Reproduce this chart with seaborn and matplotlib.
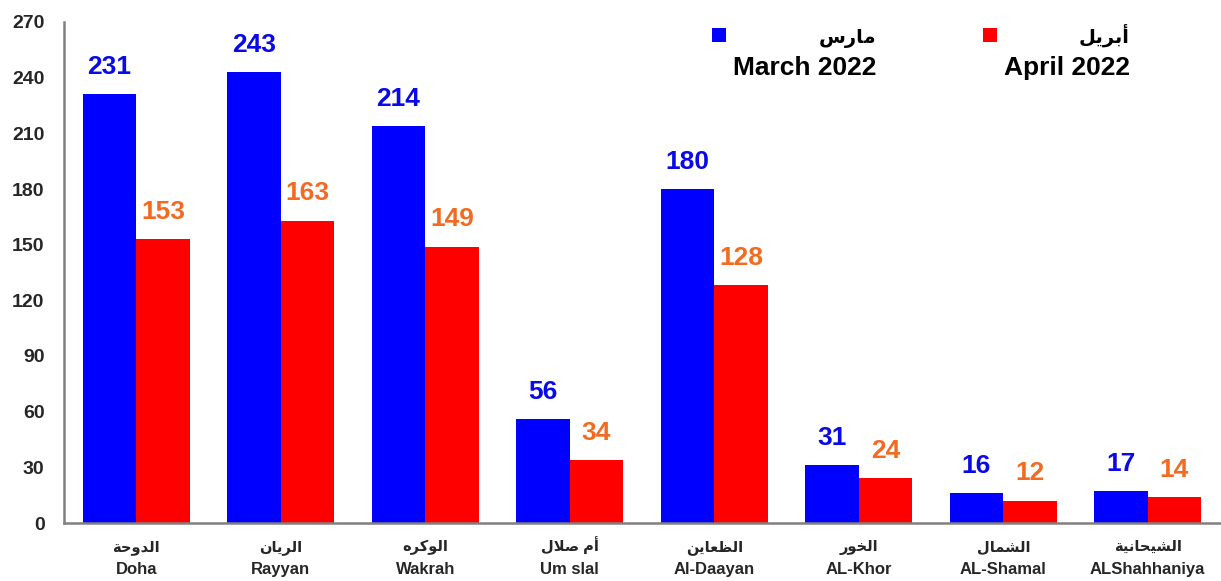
import numpy as np
import pandas as pd
import matplotlib
matplotlib.use("Agg")
import matplotlib.pyplot as plt
from matplotlib.patches import Rectangle
import seaborn as sns

# ---------------- data ----------------
regions_en = ["Doha", "Rayyan", "Wakrah", "Um slal", "Al-Daayan", "AL-Khor", "AL-Shamal", "ALShahhaniya"]
regions_ar = ["الدوحة", "الريان", "الوكره", "أم صلال", "الظعاين", "الخور", "الشمال", "الشيحانية"]
march_2022 = [231, 243, 214, 56, 180, 31, 16, 17]
april_2022 = [153, 163, 149, 34, 128, 24, 12, 14]
series_en = ["March 2022", "April 2022"]
series_ar = ["مارس", "أبريل"]
y_ticks = [0, 30, 60, 90, 120, 150, 180, 210, 240, 270]

# ------------- minimal Arabic shaping (matplotlib has no shaping engine) -------------
AR_FORMS = {
    '\u0627': (0xFE8D, 0xFE8E, None, None),
    '\u0623': (0xFE83, 0xFE84, None, None),
    '\u0628': (0xFE8F, 0xFE90, 0xFE91, 0xFE92),
    '\u0629': (0xFE93, 0xFE94, None, None),
    '\u062D': (0xFEA1, 0xFEA2, 0xFEA3, 0xFEA4),
    '\u062E': (0xFEA5, 0xFEA6, 0xFEA7, 0xFEA8),
    '\u062F': (0xFEA9, 0xFEAA, None, None),
    '\u0631': (0xFEAD, 0xFEAE, None, None),
    '\u0633': (0xFEB1, 0xFEB2, 0xFEB3, 0xFEB4),
    '\u0634': (0xFEB5, 0xFEB6, 0xFEB7, 0xFEB8),
    '\u0635': (0xFEB9, 0xFEBA, 0xFEBB, 0xFEBC),
    '\u0638': (0xFEC5, 0xFEC6, 0xFEC7, 0xFEC8),
    '\u0639': (0xFEC9, 0xFECA, 0xFECB, 0xFECC),
    '\u0643': (0xFED9, 0xFEDA, 0xFEDB, 0xFEDC),
    '\u0644': (0xFEDD, 0xFEDE, 0xFEDF, 0xFEE0),
    '\u0645': (0xFEE1, 0xFEE2, 0xFEE3, 0xFEE4),
    '\u0646': (0xFEE5, 0xFEE6, 0xFEE7, 0xFEE8),
    '\u0647': (0xFEE9, 0xFEEA, 0xFEEB, 0xFEEC),
    '\u0648': (0xFEED, 0xFEEE, None, None),
    '\u064A': (0xFEF1, 0xFEF2, 0xFEF3, 0xFEF4),
}
LAM_ALEF = {'\u0627': (0xFEFB, 0xFEFC), '\u0623': (0xFEF7, 0xFEF8)}


def shape_ar(s):
    tokens = []
    i = 0
    while i < len(s):
        c = s[i]
        if c == '\u0644' and i + 1 < len(s) and s[i + 1] in LAM_ALEF:
            tokens.append(('LA', s[i + 1]))
            i += 2
        else:
            tokens.append(('C', c))
            i += 1

    def joins_after(tok):
        k, c = tok
        if k == 'LA':
            return False
        f = AR_FORMS.get(c)
        return f is not None and f[2] is not None

    def joins_before(tok):
        k, c = tok
        return k == 'LA' or c in AR_FORMS

    out = []
    for j, tok in enumerate(tokens):
        prev_j = j > 0 and joins_after(tokens[j - 1]) and joins_before(tok)
        next_j = j + 1 < len(tokens) and joins_after(tok) and joins_before(tokens[j + 1])
        k, c = tok
        if k == 'LA':
            iso, fin = LAM_ALEF[c]
            out.append(chr(fin if prev_j else iso))
        elif c in AR_FORMS:
            iso, fin, ini, med = AR_FORMS[c]
            if prev_j and next_j:
                g = med
            elif prev_j:
                g = fin
            elif next_j:
                g = ini
            else:
                g = iso
            out.append(chr(g))
        else:
            out.append(c)
    return ''.join(reversed(out))


# ---------------- style ----------------
sns.set_style("white")
plt.rcParams['font.family'] = ['Liberation Sans', 'DejaVu Sans']
plt.rcParams['font.weight'] = 'bold'

BLUE = "#0000FF"
RED = "#FF0000"
LBL_BLUE = "#0A0AE6"
LBL_ORANGE = "#F26B22"
AXIS_GRAY = "#808080"

df = pd.DataFrame({
    "region": regions_en * 2,
    "month": [series_en[0]] * len(regions_en) + [series_en[1]] * len(regions_en),
    "value": march_2022 + april_2022,
})

W, H = 1221, 581
fig = plt.figure(figsize=(W / 100, H / 100), dpi=100)
ax = fig.add_axes([64 / W, 1 - 523 / H, (1220 - 64) / W, (523 - 22) / H])

sns.barplot(data=df, x="region", y="value", hue="month", order=regions_en,
            hue_order=series_en, palette=[BLUE, RED], saturation=1,
            width=0.74, gap=0, legend=False, ax=ax, errorbar=None,
            linewidth=0, edgecolor='none')

for cont, col in zip(ax.containers, [LBL_BLUE, LBL_ORANGE]):
    ax.bar_label(cont, labels=[f"{v:.0f}" for v in cont.datavalues], padding=11,
                 color=col, fontsize=19, fontweight='bold')

ax.set_xlim(-0.5, 7.5)
ax.set_ylim(0, 270)
ax.set_yticks(y_ticks)
ax.set_yticklabels([str(t) for t in y_ticks], fontsize=14, fontweight='bold')
ax.tick_params(axis='y', length=0, pad=14)

# English region names as tick labels, Arabic names above them
ax.set_xticks(range(len(regions_en)))
ax.set_xticklabels(regions_en, fontsize=12, fontweight='bold')
for lab in ax.get_xticklabels():
    lab.set_va('baseline')
ax.tick_params(axis='x', length=0, pad=36.5)
for i, ar in enumerate(regions_ar):
    ax.annotate(shape_ar(ar), xy=(i, 0), xycoords=('data', 'axes fraction'),
                xytext=(0, -20), textcoords='offset points', ha='center',
                va='baseline', fontsize=10.5, fontweight='bold')

ax.set_xlabel("")
ax.set_ylabel("")
for side in ["top", "right"]:
    ax.spines[side].set_visible(False)
for side in ["left", "bottom"]:
    ax.spines[side].set_color(AXIS_GRAY)
    ax.spines[side].set_linewidth(1.8)

# ---------------- legend (manual, like the reference) ----------------
legend_items = [
    (712, 876, BLUE, series_ar[0], series_en[0]),
    (983, 1130, RED, series_ar[1], series_en[1]),
]
for sq_x, txt_right, col, ar, en in legend_items:
    fig.patches.append(Rectangle((sq_x / W, 1 - 42 / H), 14 / W, 14 / H,
                                 transform=fig.transFigure, facecolor=col,
                                 edgecolor='none'))
    fig.text(txt_right / W, 1 - 43 / H, shape_ar(ar), ha='right', va='baseline',
             fontsize=14, fontweight='bold', color='black')
    fig.text(txt_right / W, 1 - 75 / H, en, ha='right', va='baseline',
             fontsize=19, fontweight='bold', color='black')

fig.savefig("out.png", dpi=100)
